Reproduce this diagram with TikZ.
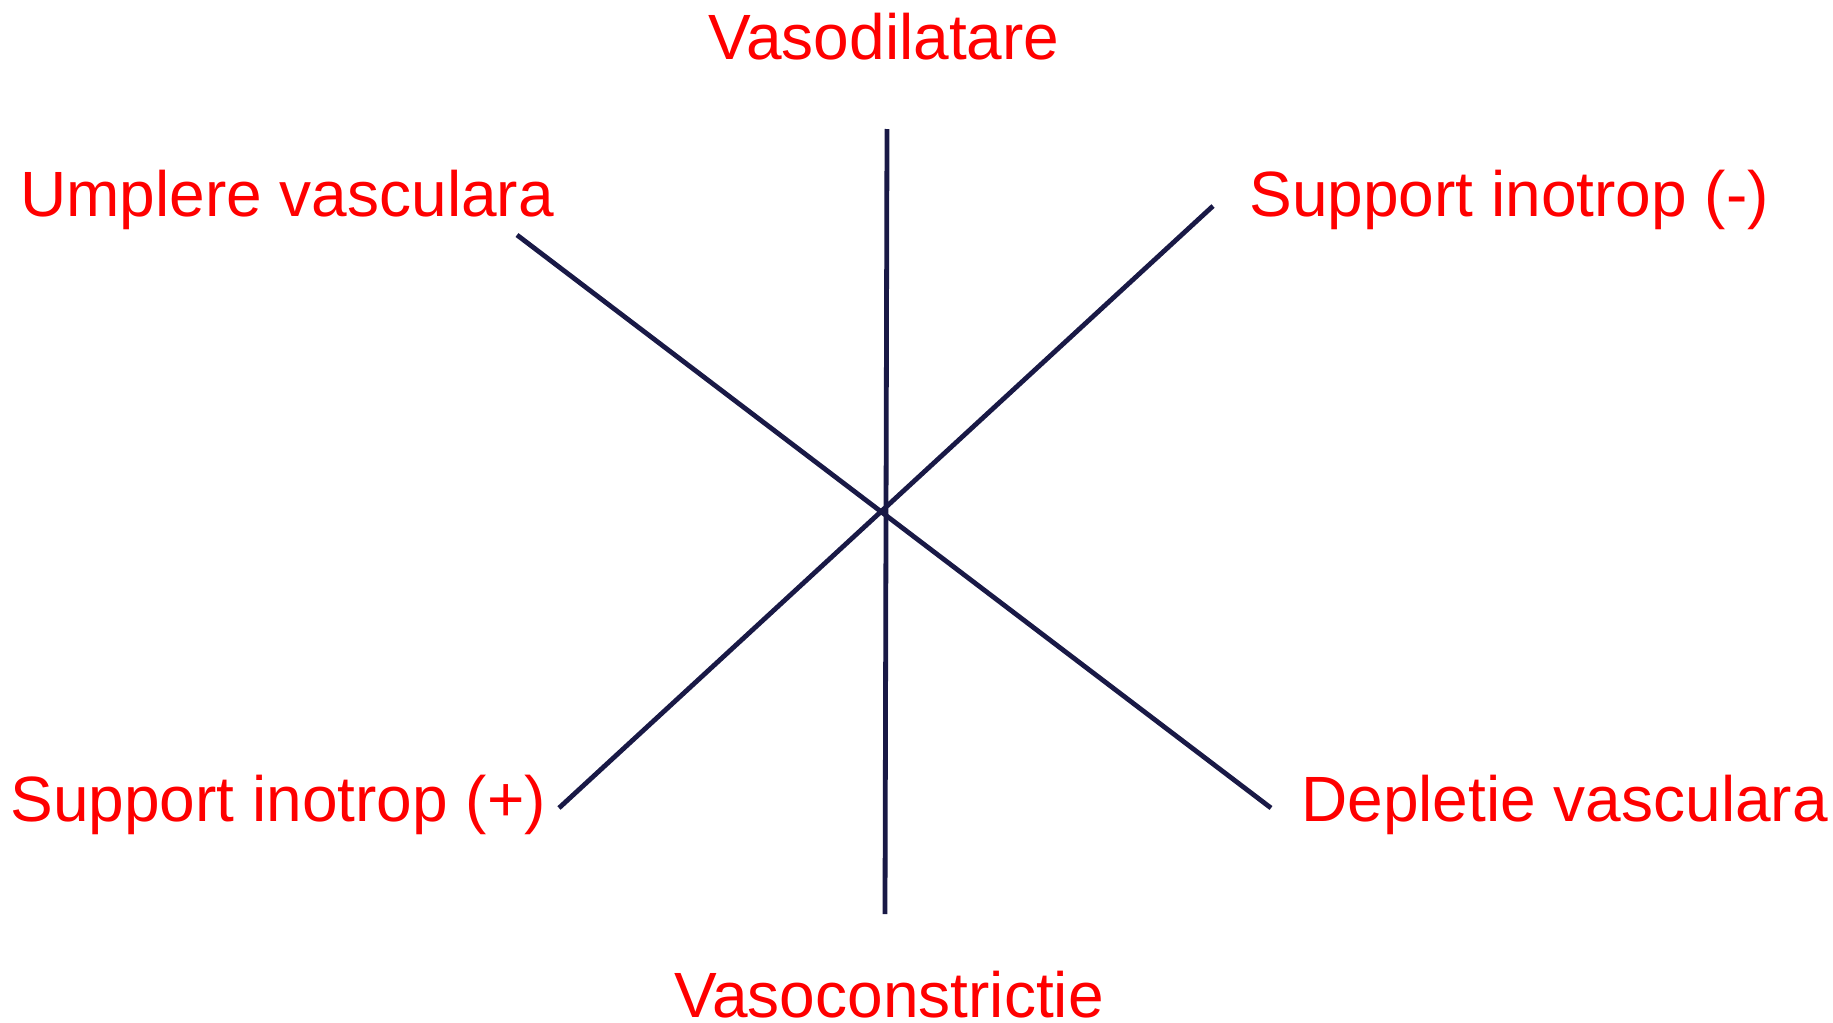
\documentclass[tikz,border=0pt]{standalone}
\usepackage{fontspec}
\setmainfont{Liberation Sans}
\definecolor{axisnavy}{RGB}{25,25,70}
\begin{document}
\begin{tikzpicture}[
  x=0.5pt, y=-0.5pt,
  axis/.style={draw=axisnavy, line width=2.4pt},
  lbl/.style={text=red, font=\fontsize{32}{38}\selectfont, inner sep=0pt, anchor=base west}
]
\useasboundingbox (0,0) rectangle (1833,1023);
\node[lbl] (vdil) at (708,59) {Vasodilatare};
\node[lbl] (umpl) at (20,216) {Umplere vasculara};
\node[lbl] (supneg) at (1249,216) {Support inotrop (-)};
\node[lbl] (suppos) at (10,821) {Support inotrop (+)};
\node[lbl] (depl) at (1301,821) {Depletie vasculara};
\node[lbl] (vcon) at (674,1017) {Vasoconstrictie};
% line ends
\coordinate (vtop) at (887,129);
\coordinate (vbot) at (885,914);
\coordinate (ulend) at (517,235);
\coordinate (lrend) at (1271,808);
\coordinate (urend) at (1213,206);
\coordinate (llend) at (559,808);
\draw[axis] (vtop) -- (vbot);
\draw[axis] (ulend) -- (lrend);
\draw[axis] (urend) -- (llend);
\end{tikzpicture}
\end{document}
